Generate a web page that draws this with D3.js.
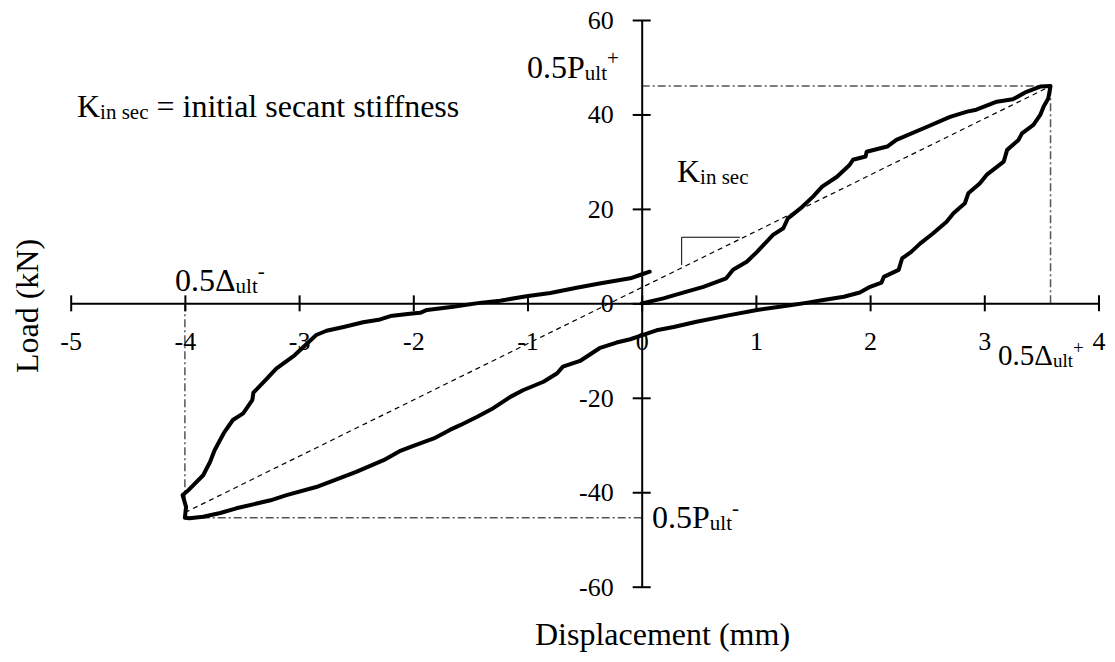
<!DOCTYPE html>
<meta charset="utf-8">
<style>
  body { margin: 0; background: #fff; }
  svg text { font-family: "Liberation Serif", "Times New Roman", serif; fill: #000; }
  .axis path, .axis line { stroke: #000; stroke-width: 2px; }
  .loop { fill: none; stroke: #000; stroke-width: 4px; stroke-linejoin: round; stroke-linecap: round; }
  .secant { fill: none; stroke: #000; stroke-width: 1.2px; stroke-dasharray: 5,4; }
  .ref { fill: none; stroke: #555; stroke-width: 1.5px; stroke-dasharray: 8,3,2,3; }
  .tri { fill: none; stroke: #000; stroke-width: 1px; }
</style>
<svg width="1115" height="662"></svg>
<script src="https://d3js.org/d3.v7.min.js"></script>
<script>

var svg = d3.select("svg");
var serif = '"Liberation Serif", "Times New Roman", serif';

// tick values
var xTicks = [-5, -4, -3, -2, -1, 0, 1, 2, 3, 4];
var yTicks = [-60, -40, -20, 0, 20, 40, 60];

// hysteresis loop: displacement (mm) and load (kN), in drawing order
var loopDisp = [0, 0.19, 0.34, 0.54, 0.74, 0.80, 0.92, 1.01, 1.15, 1.24, 1.28, 1.39, 1.50, 1.58, 1.71, 1.82, 1.85, 1.96, 1.97, 2.15, 2.23, 2.50, 2.70, 2.85, 2.93, 3.11, 3.25, 3.37, 3.49, 3.58,
  3.56, 3.52, 3.49, 3.43, 3.33, 3.30, 3.20, 3.17, 3.02, 2.96, 2.86, 2.83, 2.73, 2.67, 2.55, 2.44, 2.36, 2.28, 2.25, 2.12, 2.10, 2.00, 1.91, 1.77, 1.59, 1.44, 1.30, 1.01, 0.77, 0.48, 0.28, 0.13, 0,
  -0.10, -0.22, -0.37, -0.54, -0.69, -0.74, -0.86, -1.04, -1.15, -1.30, -1.44, -1.59, -1.68, -1.82, -1.97, -2.12, -2.26, -2.50, -2.85, -3.11, -3.25, -3.55, -3.69, -3.84, -3.96, -4.00,
  -3.99, -4.02, -3.98, -3.84, -3.78, -3.74, -3.66, -3.58, -3.49, -3.41, -3.40, -3.28, -3.20, -3.04, -2.96, -2.85, -2.76, -2.61, -2.44, -2.29, -2.20, -2.03, -1.94, -1.88, -1.65, -1.42, -1.24, -1.01, -0.80, -0.57, -0.37, -0.10, -0.015, 0.07];
var loopLoad = [0, 1.05, 2.1, 3.5, 5.3, 7.1, 8.8, 10.9, 14.5, 15.9, 18.0, 20.1, 22.6, 24.7, 26.8, 29.3, 30.4, 31.1, 32.1, 33.2, 34.6, 37.4, 39.5, 40.6, 41.0, 42.7, 43.2, 44.8, 45.9, 46.0,
  43.4, 41.7, 39.9, 37.8, 36.0, 34.6, 32.5, 30.0, 27.2, 25.4, 23.3, 21.2, 19.1, 17.3, 14.8, 12.7, 10.9, 9.5, 7.1, 5.6, 4.4, 3.5, 2.3, 1.4, 0.7, 0.1, -0.4, -1.4, -2.5, -3.9, -5.0, -5.7, -6.8,
  -7.6, -8.3, -9.5, -12.2, -13.4, -14.8, -16.6, -18.4, -19.8, -22.2, -24.0, -25.8, -26.8, -28.6, -29.9, -31.3, -33.2, -35.7, -38.9, -40.6, -41.7, -43.4, -44.4, -45.2, -45.5, -45.4,
  -43.1, -40.6, -39.8, -36.4, -33.6, -31.1, -27.5, -24.7, -23.3, -20.5, -18.9, -15.9, -13.8, -11.0, -9.2, -6.7, -5.8, -5.0, -4.0, -3.4, -2.7, -2.2, -2.0, -1.4, -0.7, 0.1, 0.55, 1.5, 2.2, 3.3, 4.2, 5.3, 6.0, 6.7];

// half ultimate points and secant line
var halfUltDisp = [3.58, -4.0];
var halfUltLoad = [46.0, -45.4];
var secantDisp = [-4.0, 3.58];
var secantLoad = [-44.3, 46.0];
// slope triangle corners along the secant
var triDisp = [0.35, 0.35, 0.86];
var triLoad = [8.1, 14.0, 14.0];

var x = d3.scaleLinear().domain([-5, 4]).range([70.7, 1098.5]);
var y = d3.scaleLinear().domain([-60, 60]).range([586.7, 20]);

var data = loopDisp.map(function(d, i) { return [d, loopLoad[i]]; });
var line = d3.line()
    .x(function(d) { return x(d[0]); })
    .y(function(d) { return y(d[1]); });

// dash-dot reference lines to 0.5 Pult / 0.5 delta ult
halfUltDisp.forEach(function(dx, i) {
  svg.append("path").attr("class", "ref")
      .attr("d", line([[0, halfUltLoad[i]], [dx, halfUltLoad[i]]]));
  svg.append("path").attr("class", "ref")
      .attr("d", line([[dx, 0], [dx, halfUltLoad[i]]]));
});

// axes
var xAxis = svg.append("g")
    .attr("class", "axis")
    .attr("transform", "translate(0," + y(0) + ")")
    .call(d3.axisBottom(x).tickValues(xTicks).tickSize(8).tickSizeOuter(0).tickFormat(function(d) { return String(d); }));
xAxis.selectAll(".tick line").attr("y1", -8).attr("y2", 8);
xAxis.selectAll(".tick text").attr("y", 28).attr("dy", "0.71em");

var yAxis = svg.append("g")
    .attr("class", "axis")
    .attr("transform", "translate(" + x(0) + ",0)")
    .call(d3.axisLeft(y).tickValues(yTicks).tickSize(8).tickSizeOuter(0).tickFormat(function(d) { return String(d); }));
yAxis.selectAll(".tick line").attr("x1", -9).attr("x2", 9);
yAxis.selectAll(".tick text").attr("x", -28);

svg.selectAll(".axis").attr("font-family", null).attr("font-size", null);
svg.selectAll(".axis text").style("font-family", serif).style("font-size", "26px");

// secant stiffness line and triangle
svg.append("path").attr("class", "secant")
    .attr("d", line(secantDisp.map(function(d, i) { return [d, secantLoad[i]]; })));
svg.append("path").attr("class", "tri")
    .attr("d", line(triDisp.map(function(d, i) { return [d, triLoad[i]]; })));

// the loop
svg.append("path").datum(data).attr("class", "loop").attr("d", line);

// labels with sub/superscripts
function label(px, py, parts, size) {
  size = size || 32;
  var small = Math.round(size * 0.66);
  var t = svg.append("text").attr("x", px).attr("y", py)
      .style("font-family", serif).style("font-size", size + "px");
  parts.forEach(function(p) {
    var s = t.append("tspan").text(p[0]);
    if (p[1] === "sub") s.attr("baseline-shift", "-10%").style("font-size", small + "px");
    if (p[1] === "sup") s.attr("baseline-shift", "60%").style("font-size", small + "px");
  });
  return t;
}

label(77, 117, [["K"], ["in sec", "sub"], [" = initial secant stiffness"]]);
label(677, 182, [["K"], ["in sec", "sub"]]);
label(527, 78, [["0.5P"], ["ult", "sub"], ["+", "sup"]]);
label(652, 528, [["0.5P"], ["ult", "sub"], ["-", "sup"]]);
label(175, 291, [["0.5\u0394"], ["ult", "sub"], ["-", "sup"]]);
label(998, 365, [["0.5\u0394"], ["ult", "sub"], ["+", "sup"]], 29);

// axis titles
svg.append("text")
    .attr("transform", "translate(38,306) rotate(-90)")
    .attr("text-anchor", "middle")
    .style("font-family", serif).style("font-size", "32px")
    .text("Load (kN)");
svg.append("text")
    .attr("x", 535).attr("y", 645)
    .style("font-family", serif).style("font-size", "32px")
    .text("Displacement (mm)");

</script>
